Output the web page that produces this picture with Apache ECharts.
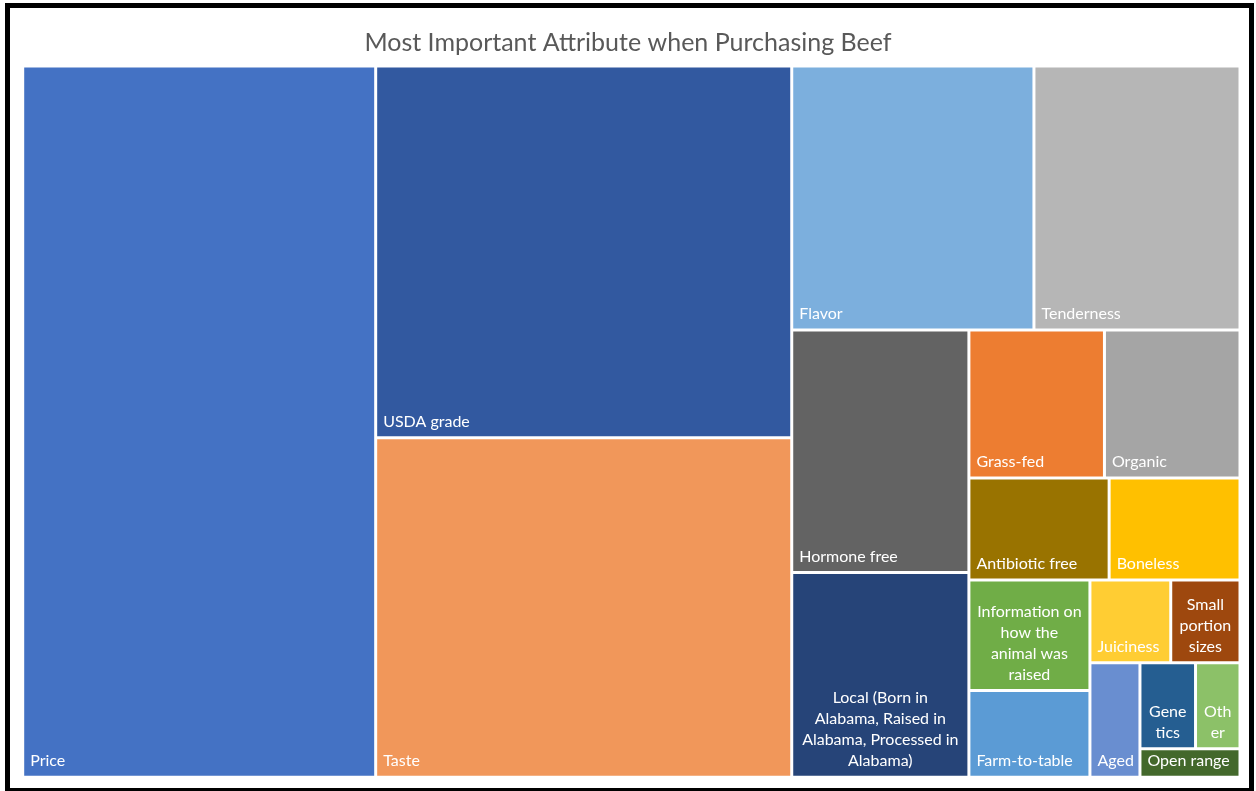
<!DOCTYPE html>
<html>
<head>
<meta charset="utf-8">
<title>Most Important Attribute when Purchasing Beef</title>
<script src="https://cdn.jsdelivr.net/npm/echarts@6/dist/echarts.min.js"></script>
<style>
  html, body { margin: 0; padding: 0; background: #ffffff; }
  #chart { width: 1256px; height: 791px; }
</style>
</head>
<body>
<div id="chart"></div>
<script>
// Survey responses: most important attribute when purchasing beef
const categories = [
  'Price', 'USDA grade', 'Taste', 'Flavor', 'Tenderness', 'Hormone free',
  'Local (Born in Alabama, Raised in Alabama, Processed in Alabama)',
  'Grass-fed', 'Organic', 'Antibiotic free', 'Boneless',
  'Information on how the animal was raised', 'Farm-to-table',
  'Juiciness', 'Small portion sizes', 'Aged', 'Genetics', 'Other', 'Open range'
];
const responses = [263, 162, 148, 67, 57, 45, 38, 21, 21, 15, 14, 14, 11, 7, 6, 6, 5, 4, 3];
const colors = [
  '#4472C4', '#3259A0', '#F1975A', '#7CAFDD', '#B6B6B6', '#636363',
  '#264478', '#ED7D31', '#A5A5A5', '#997300', '#FFC000',
  '#70AD47', '#5B9BD5', '#FFCD33', '#9E480E', '#698ED0',
  '#255E91', '#8CC168', '#43682B'
];

// Cells too narrow for a single line get their label broken by hand
const wrappedLabels = {
  'Local (Born in Alabama, Raised in Alabama, Processed in Alabama)':
    'Local (Born in\nAlabama, Raised in\nAlabama, Processed in\nAlabama)',
  'Information on how the animal was raised': 'Information on\nhow the\nanimal was\nraised',
  'Small portion sizes': 'Small\nportion\nsizes',
  'Genetics': 'Gene\ntics',
  'Other': 'Oth\ner'
};

// The three smallest answers are packed together as one block beside "Aged"
const smallBlock = ['Genetics', 'Other', 'Open range'];

function leaf(i) {
  const name = categories[i];
  const node = {
    name: name,
    value: responses[i],
    itemStyle: { color: colors[i] }
  };
  if (wrappedLabels[name]) {
    node.label = {
      formatter: wrappedLabels[name],
      position: 'insideBottom',
      align: 'center',
      padding: [0, 1, 4, 1]
    };
  }
  return node;
}

const tree = [];
let block = null;
categories.forEach(function (name, i) {
  if (smallBlock.indexOf(name) >= 0) {
    if (!block) {
      block = {
        name: '',
        itemStyle: { borderWidth: 0, gapWidth: 0, borderColor: '#ffffff' },
        children: []
      };
      tree.push(block);
    }
    block.children.push(leaf(i));
  } else {
    tree.push(leaf(i));
  }
});

const chart = echarts.init(document.getElementById('chart'), null, { renderer: 'canvas' });
chart.setOption({
  animation: false,
  backgroundColor: '#ffffff',
  title: {
    text: 'Most Important Attribute when Purchasing Beef',
    left: 'center',
    top: 25,
    textStyle: {
      fontFamily: 'Lato',
      fontSize: 25,
      fontWeight: 'normal',
      color: '#595959'
    }
  },
  graphic: [{
    type: 'rect',
    silent: true,
    z: 100,
    shape: { x: 7.5, y: 5.5, width: 1244, height: 785 },
    style: { fill: 'none', stroke: '#000000', lineWidth: 5 }
  }],
  series: [{
    type: 'treemap',
    left: 22.7,
    top: 66,
    width: 1217.3,
    height: 711.3,
    squareRatio: 1,
    sort: false,
    roam: false,
    nodeClick: false,
    breadcrumb: { show: false },
    itemStyle: { borderWidth: 1.5, borderColor: '#ffffff', gapWidth: 0 },
    levels: [
      { itemStyle: { borderWidth: 0, gapWidth: 0, borderColor: '#ffffff' } },
      { itemStyle: { borderWidth: 1.5, gapWidth: 0, borderColor: '#ffffff' } },
      { itemStyle: { borderWidth: 1.5, gapWidth: 0, borderColor: '#ffffff' } }
    ],
    label: {
      show: true,
      position: 'insideBottomLeft',
      padding: [0, 2, 4, 6],
      color: '#ffffff',
      fontFamily: 'Lato',
      fontSize: 16,
      lineHeight: 21,
      overflow: 'none'
    },
    upperLabel: { show: false },
    emphasis: { disabled: true },
    data: tree
  }]
});
</script>
</body>
</html>
